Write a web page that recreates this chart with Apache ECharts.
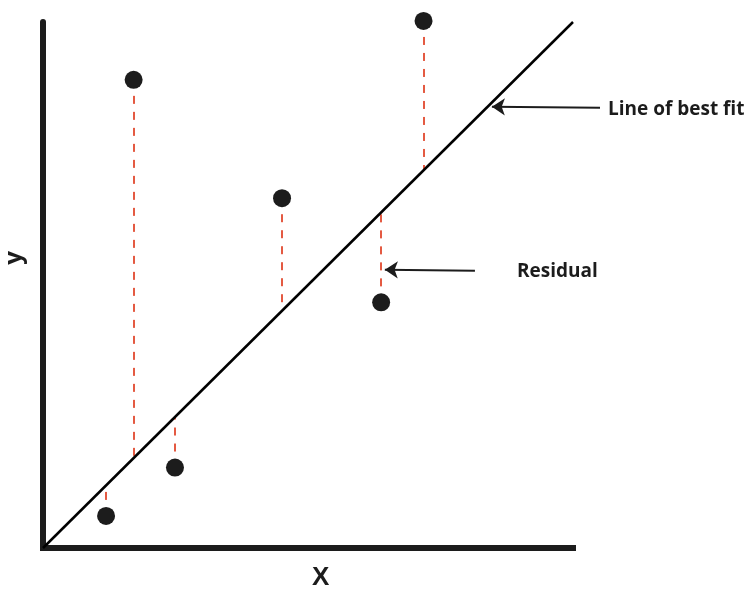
<!DOCTYPE html>
<html>
<head>
<meta charset="utf-8">
<script src="https://cdn.jsdelivr.net/npm/echarts@6/dist/echarts.min.js"></script>
<style>html,body{margin:0;padding:0;background:#fff}#c{width:756px;height:598px}</style>
</head>
<body>
<div id="c"></div>
<script>
// Observations (x, y)
const pointsX = [1.19, 1.71, 2.49, 4.51, 6.38, 7.18];
const pointsY = [0.61, 8.90, 1.53, 6.65, 4.67, 10.02];
// Line of best fit endpoints
const fitX = [0, 10];
const fitY = [0, 10];
// Annotation arrows: [fromX, fromY, toX, toY]
const arrowBestFit = [10.51, 8.37, 8.47, 8.39];
const arrowResidual = [8.15, 5.27, 6.45, 5.29];
const labels = { bestFit: 'Line of best fit', residual: 'Residual', x: 'X', y: 'y' };

const chart = echarts.init(document.getElementById('c'));
const scatterData = pointsX.map((x, i) => [x, pointsY[i]]);
const fitPred = x => fitY[0] + (fitY[1] - fitY[0]) * (x - fitX[0]) / (fitX[1] - fitX[0]);
const residuals = pointsX.map((x, i) => ({ coords: [[x, pointsY[i]], [x, fitPred(x)]] }));
const ink = '#1c1c1c';
const font = '"Open Sans", sans-serif';

chart.setOption({
  animation: false,
  backgroundColor: '#fff',
  grid: { left: 43, top: 22, width: 530, height: 526 },
  xAxis: {
    type: 'value', min: 0, max: 10,
    axisLine: { show: true, onZero: false, lineStyle: { color: ink, width: 6, cap: 'square' } },
    axisTick: { show: false }, axisLabel: { show: false }, splitLine: { show: false }
  },
  yAxis: {
    type: 'value', min: 0, max: 10,
    axisLine: { show: true, onZero: false, lineStyle: { color: ink, width: 6 } },
    axisTick: { show: false }, axisLabel: { show: false }, splitLine: { show: false }
  },
  series: [
    {
      type: 'lines', coordinateSystem: 'cartesian2d', z: 2, clip: false,
      lineStyle: { color: '#e45a42', width: 2, type: [8, 8], opacity: 1 },
      data: residuals, symbol: 'none'
    },
    {
      type: 'line', z: 3, symbol: 'none', clip: false,
      lineStyle: { color: '#000', width: 2.5 },
      data: fitX.map((x, i) => [x, fitY[i]])
    },
    {
      type: 'scatter', z: 4, symbolSize: 18, clip: false,
      itemStyle: { color: ink, opacity: 1 },
      data: scatterData
    },
    {
      type: 'lines', coordinateSystem: 'cartesian2d', z: 5, clip: false,
      symbol: ['none', 'arrow'], symbolSize: [0, 13],
      lineStyle: { color: ink, width: 2, opacity: 1 },
      data: [
        { coords: [[arrowBestFit[0], arrowBestFit[1]], [arrowBestFit[2], arrowBestFit[3]]] },
        { coords: [[arrowResidual[0], arrowResidual[1]], [arrowResidual[2], arrowResidual[3]]] }
      ]
    }
  ],
  graphic: [
    { type: 'text', left: 608, top: 100, style: { text: labels.bestFit, font: 'bold 19px ' + font, fill: ink } },
    { type: 'text', left: 517, top: 262, style: { text: labels.residual, font: 'bold 19px ' + font, fill: ink } },
    { type: 'text', left: 312, top: 565, style: { text: labels.x, font: 'bold 26px "Liberation Sans", Arial, sans-serif', fill: ink } },
    { type: 'text', x: 14, y: 258, rotation: Math.PI / 2,
      style: { text: labels.y, font: 'bold 24px ' + font, fill: ink, align: 'center', verticalAlign: 'middle' } }
  ]
});
</script>
</body>
</html>
